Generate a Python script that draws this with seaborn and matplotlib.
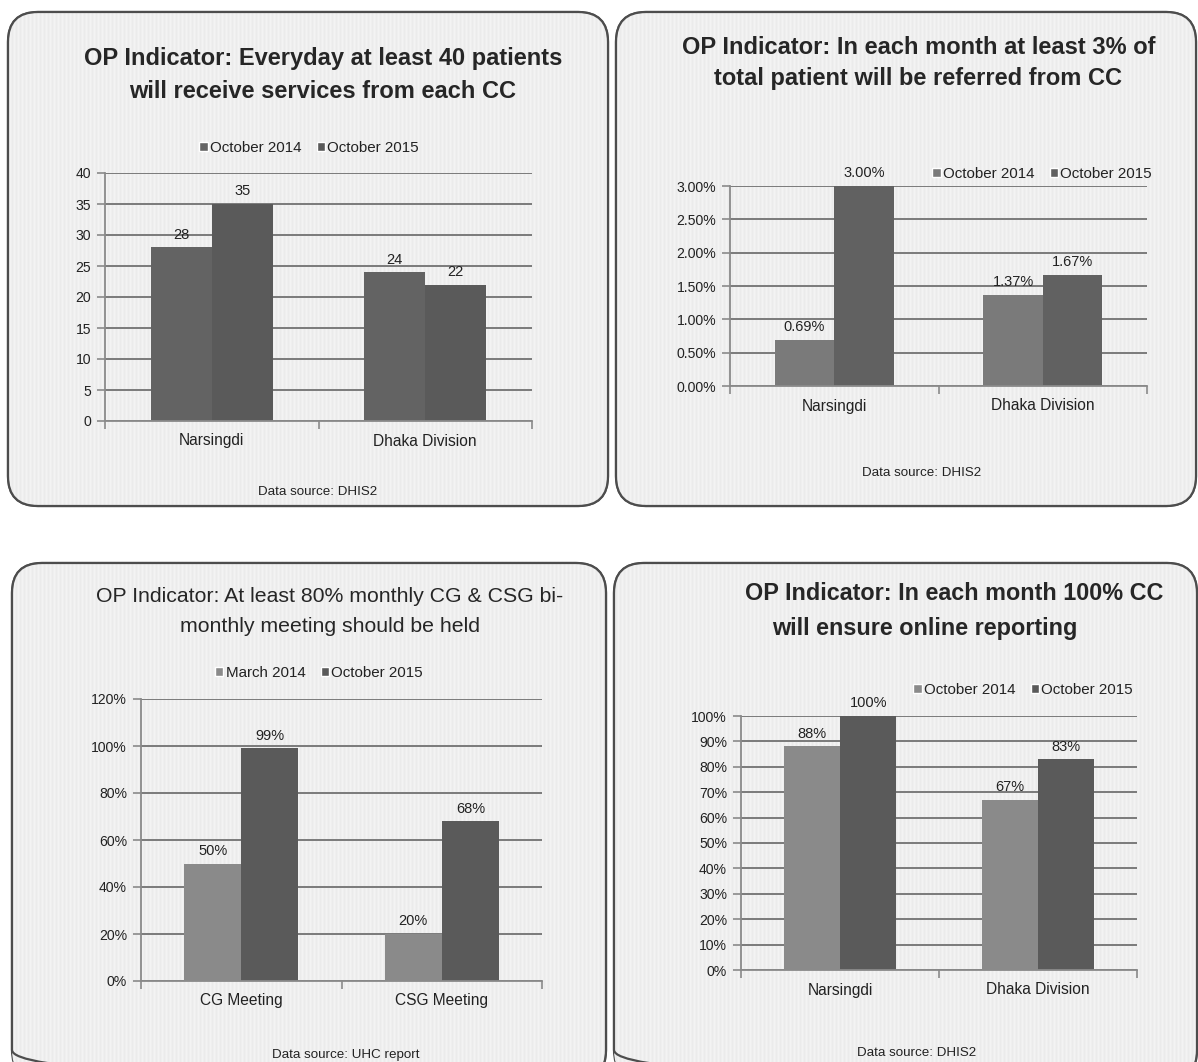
import numpy as np
import pandas as pd
import matplotlib
matplotlib.use("Agg")
import matplotlib.pyplot as plt
import seaborn as sns
from matplotlib.patches import FancyBboxPatch, Patch
from matplotlib import font_manager

# ---------------- data ----------------
p1_categories = ["Narsingdi", "Dhaka Division"]
p1_series = ["October 2014", "October 2015"]
p1_first = [28, 24]
p1_second = [35, 22]
p1_yticks = [0, 5, 10, 15, 20, 25, 30, 35, 40]

p2_categories = ["Narsingdi", "Dhaka Division"]
p2_series = ["October 2014", "October 2015"]
p2_first = [0.0069, 0.0137]
p2_second = [0.0300, 0.0167]
p2_yticks = [0.0, 0.005, 0.010, 0.015, 0.020, 0.025, 0.030]

p3_categories = ["CG Meeting", "CSG Meeting"]
p3_series = ["March 2014", "October 2015"]
p3_first = [0.50, 0.20]
p3_second = [0.99, 0.68]
p3_yticks = [0.0, 0.2, 0.4, 0.6, 0.8, 1.0, 1.2]

p4_categories = ["Narsingdi", "Dhaka Division"]
p4_series = ["October 2014", "October 2015"]
p4_first = [0.88, 0.67]
p4_second = [1.00, 0.83]
p4_yticks = [0.0, 0.1, 0.2, 0.3, 0.4, 0.5, 0.6, 0.7, 0.8, 0.9, 1.0]

titles = [
    ["OP Indicator: Everyday at least 40 patients", "will receive services from each CC"],
    ["OP Indicator: In each month at least 3% of", "total patient will be referred from CC"],
    ["OP Indicator: At least 80% monthly CG & CSG bi-", "monthly meeting should be held"],
    ["OP Indicator: In each month 100% CC", "will ensure online reporting"],
]
sources = ["Data source: DHIS2", "Data source: DHIS2", "Data source: UHC report", "Data source: DHIS2"]

# ---------------- fonts ----------------
sns.set_style("white")
names = {f.name for f in font_manager.fontManager.ttflist}
NARROW = "Liberation Sans Narrow" in names
FAM = ["Liberation Sans Narrow", "DejaVu Sans"] if NARROW else ["Liberation Sans", "DejaVu Sans"]
SC = 1.0 if NARROW else 0.84
plt.rcParams["font.family"] = FAM

W, H = 1198, 1062
fig = plt.figure(figsize=(W / 100, H / 100), dpi=100)
fig.patch.set_facecolor("white")

bg = fig.add_axes([0, 0, 1, 1])
bg.set_xlim(0, W)
bg.set_ylim(H, 0)
bg.axis("off")

panels = [(8, 12, 608, 506), (616, 12, 1196, 506), (12, 563, 606, 1080), (614, 563, 1197, 1080)]
stripe = np.tile(np.array([0.92, 0.935, 0.95, 0.935]), W // 4 + 1)[:W][None, :]
for (x0, y0, x1, y1) in panels:
    patch = FancyBboxPatch((x0, y0), x1 - x0, y1 - y0,
                           boxstyle="round,pad=0,rounding_size=30",
                           facecolor="#ebebeb", edgecolor="#4d4d4d", linewidth=1.6, zorder=1)
    bg.add_patch(patch)
    im = bg.imshow(stripe, cmap="gray", vmin=0, vmax=1, aspect="auto",
                   extent=(0, W, H, 0), zorder=1.5, interpolation="nearest")
    im.set_clip_path(patch)
    edge = FancyBboxPatch((x0, y0), x1 - x0, y1 - y0,
                          boxstyle="round,pad=0,rounding_size=30",
                          facecolor="none", edgecolor="#4d4d4d", linewidth=1.6, zorder=2)
    bg.add_patch(edge)
bg.set_xlim(0, W)
bg.set_ylim(H, 0)


def px_axes(l, t, r, b):
    return fig.add_axes([l / W, 1 - b / H, (r - l) / W, (b - t) / H])


def draw(ax, cats, series, first, second, colors, yticks, fmt, labelfmt):
    df = pd.DataFrame({
        "Category": cats + cats,
        "Series": [series[0]] * len(cats) + [series[1]] * len(cats),
        "Value": first + second,
    })
    sns.barplot(data=df, x="Category", y="Value", hue="Series", palette=colors,
                width=0.57, ax=ax, saturation=1, legend=False, linewidth=0, errorbar=None)
    ax.set_facecolor("none")
    ax.set_axisbelow(True)
    ax.set_xlim(-0.5, 1.5)
    ax.set_ylim(yticks[0], yticks[-1])
    ax.set_yticks(yticks)
    ax.set_yticklabels([fmt(v) for v in yticks], fontsize=12 * SC, color="#222222")
    ax.yaxis.grid(True, color="#7a7a7a", linewidth=1.4)
    ax.xaxis.grid(False)
    for s in ["top", "right"]:
        ax.spines[s].set_visible(False)
    for s in ["left", "bottom"]:
        ax.spines[s].set_color("#8a8a8a")
        ax.spines[s].set_linewidth(1.3)
    ax.tick_params(axis="y", length=6, width=1.2, color="#8a8a8a", left=True, pad=4)
    ax.tick_params(axis="x", which="major", length=0, pad=9, labelsize=13.3 * SC, labelcolor="#222222")
    ax.set_xticks([-0.5, 0.5, 1.5], minor=True)
    ax.tick_params(axis="x", which="minor", length=6, width=1.2, color="#8a8a8a", bottom=True)
    ax.set_xlabel("")
    ax.set_ylabel("")
    for cont, vals in zip(ax.containers, [first, second]):
        ax.bar_label(cont, labels=[labelfmt(v) for v in vals], padding=4,
                     fontsize=12.5 * SC, color="#222222")


def legend(ax, series, colors, cx, cy):
    handles = [Patch(facecolor=colors[0], label=series[0]), Patch(facecolor=colors[1], label=series[1])]
    ax.legend(handles=handles, ncol=2, loc="center", bbox_to_anchor=(cx / W, 1 - cy / H),
              bbox_transform=fig.transFigure, frameon=False, handlelength=0.55, handleheight=0.55,
              handletextpad=0.15, columnspacing=1.0, fontsize=13 * SC, labelcolor="#222222")


def title(lines, xs, ys, weight, size):
    for t, x, y in zip(lines, xs, ys):
        bg.text(x, y, t, ha="center", va="center", fontsize=size * SC, fontweight=weight,
                color="#262626", zorder=5)


int_fmt = lambda v: f"{int(v)}"
pct2 = lambda v: f"{v * 100:.2f}%"
pct0 = lambda v: f"{v * 100:.0f}%"
SRC = 11.5

# Panel 1
c1 = ["#636363", "#5a5a5a"]
ax1 = px_axes(105, 173, 532, 421)
draw(ax1, p1_categories, p1_series, p1_first, p1_second, c1, p1_yticks, int_fmt, int_fmt)
legend(ax1, p1_series, c1, 309, 148)
title(titles[0], [323, 323], [58, 91], "bold", 20.3)
bg.text(318, 492, sources[0], ha="center", va="center", fontsize=SRC * SC, color="#222222", zorder=5)

# Panel 2
c2 = ["#7a7a7a", "#616161"]
ax2 = px_axes(730, 186, 1147, 386)
draw(ax2, p2_categories, p2_series, p2_first, p2_second, c2, p2_yticks, pct2, pct2)
legend(ax2, p2_series, c2, 1042, 174)
title(titles[1], [919, 918], [47, 78], "bold", 20.3)
bg.text(922, 473, sources[1], ha="center", va="center", fontsize=SRC * SC, color="#222222", zorder=5)

# Panel 3
c3 = ["#8a8a8a", "#5a5a5a"]
ax3 = px_axes(141, 699, 542, 981)
draw(ax3, p3_categories, p3_series, p3_first, p3_second, c3, p3_yticks, pct0, pct0)
legend(ax3, p3_series, c3, 319, 673)
title(titles[2], [330, 330], [597, 626], "normal", 18.2)
bg.text(346, 1055, sources[2], ha="center", va="center", fontsize=SRC * SC, color="#222222", zorder=5)

# Panel 4
c4 = ["#8a8a8a", "#5a5a5a"]
ax4 = px_axes(741, 716, 1137, 970)
draw(ax4, p4_categories, p4_series, p4_first, p4_second, c4, p4_yticks, pct0, pct0)
legend(ax4, p4_series, c4, 1023, 690)
title(titles[3], [954, 925], [593, 628], "bold", 20)
bg.text(917, 1053, sources[3], ha="center", va="center", fontsize=SRC * SC, color="#222222", zorder=5)

fig.savefig("out.png", dpi=100, facecolor="white")
